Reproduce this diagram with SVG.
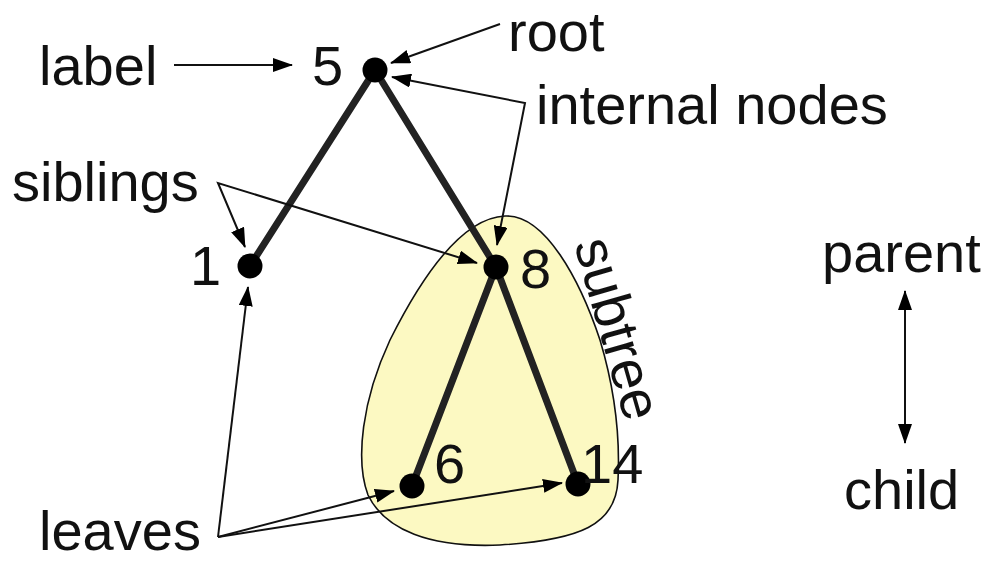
<svg xmlns="http://www.w3.org/2000/svg" width="990" height="563" viewBox="0 0 990 563">
<style>
text{font-family:"Liberation Sans",Arial,sans-serif;font-size:56px;fill:#111}
.edge{stroke:#222;stroke-width:7;stroke-linecap:round;fill:none}
.ptr{stroke:#111;stroke-width:2;fill:none;marker-end:url(#ah)}
.dot{fill:#000}
</style>
<defs>
<marker id="ah" markerUnits="userSpaceOnUse" markerWidth="20" markerHeight="14" refX="19" refY="7" orient="auto-start-reverse" viewBox="0 0 20 14">
<path d="M0,0 L20,7 L0,14 z" fill="#000"/>
</marker>
</defs>
<rect width="990" height="563" fill="#fff"/>
<g id="subtree-region">
<path d="M 505 216 C 545 214, 580 280, 600 340 C 615 390, 620 440, 618 480 C 616 525, 580 540, 500 545 C 430 548, 385 530, 368 495 C 355 460, 362 400, 390 340 C 420 280, 460 218, 505 216 Z" fill="#fcf9c2" stroke="#111" stroke-width="1.6"/>
<text transform="translate(574,244) rotate(74)" font-size="54">subtree</text>
</g>
<g id="connectors">
<line class="edge" x1="375" y1="70" x2="250" y2="266"/>
<line class="edge" x1="375" y1="70" x2="496" y2="267"/>
<line class="edge" x1="496" y1="267" x2="412" y2="486"/>
<line class="edge" x1="496" y1="267" x2="578" y2="484"/>
<line class="ptr" x1="174" y1="65" x2="292" y2="65"/>
<line class="ptr" x1="500" y1="24" x2="391" y2="63"/>
<polyline class="ptr" points="392,77 525,103 497,245" style="marker-start:url(#ah)"/>
<polyline class="ptr" points="245,247 218,183 477,263" style="marker-start:url(#ah)"/>
<line class="ptr" x1="218" y1="537" x2="248" y2="287"/>
<line class="ptr" x1="218" y1="537" x2="394" y2="491"/>
<line class="ptr" x1="218" y1="537" x2="562" y2="483"/>
<line class="ptr" x1="905" y1="443" x2="905" y2="291" style="marker-start:url(#ah)"/>
</g>
<g id="node-5"><circle class="dot" cx="375" cy="70" r="12.5"/><text x="312" y="85">5</text></g>
<g id="node-1"><circle class="dot" cx="250" cy="266" r="12.5"/><text x="190" y="285">1</text></g>
<g id="node-8"><circle class="dot" cx="496" cy="267" r="12.5"/><text x="520" y="288">8</text></g>
<g id="node-6"><circle class="dot" cx="412" cy="486" r="12.5"/><text x="434" y="483">6</text></g>
<g id="node-14"><circle class="dot" cx="578" cy="484" r="12.5"/><text x="581" y="483">14</text></g>
<g id="labels">
<text x="39" y="85">label</text>
<text x="508" y="51">root</text>
<text x="536" y="124" font-size="57.5">internal nodes</text>
<text x="12" y="201" font-size="57">siblings</text>
<text x="39" y="550">leaves</text>
<text x="822" y="272">parent</text>
<text x="844" y="509">child</text>
</g>
</svg>
